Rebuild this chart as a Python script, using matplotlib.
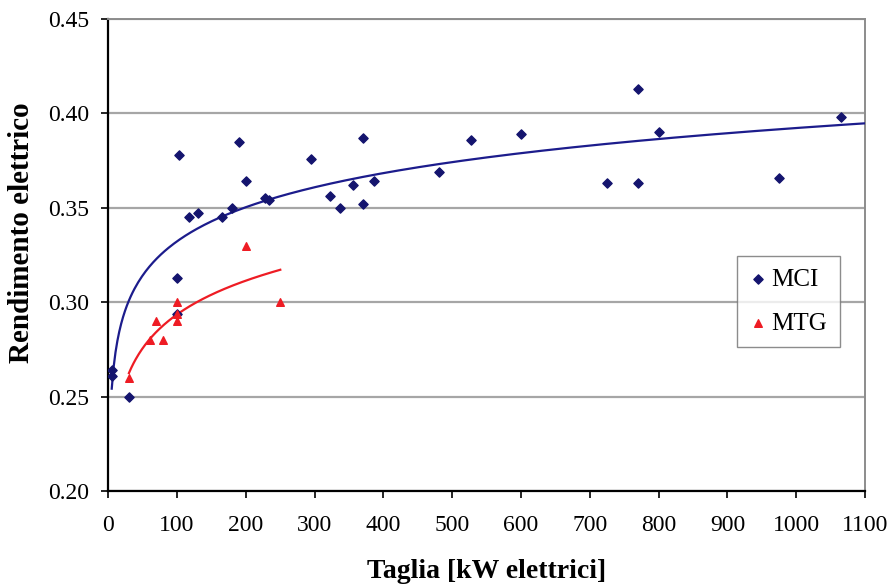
import numpy as np
import matplotlib
matplotlib.use("Agg")
import matplotlib.pyplot as plt

plt.rcParams['font.family'] = ['Liberation Serif', 'DejaVu Serif']

# Data
mci_x = [5, 5, 30, 100, 100, 103, 118, 130, 165, 180, 190, 200, 228, 233,
         295, 323, 337, 356, 370, 370, 386, 480, 527, 600, 725, 770, 770,
         800, 975, 1065]
mci_y = [0.264, 0.261, 0.250, 0.313, 0.294, 0.378, 0.345, 0.347, 0.345,
         0.350, 0.385, 0.364, 0.355, 0.354, 0.376, 0.356, 0.350, 0.362,
         0.387, 0.352, 0.364, 0.369, 0.386, 0.389, 0.363, 0.413, 0.363,
         0.390, 0.366, 0.398]
mtg_x = [30, 60, 70, 80, 100, 100, 100, 200, 250]
mtg_y = [0.260, 0.280, 0.290, 0.280, 0.300, 0.294, 0.290, 0.330, 0.300]

x_ticks = [0, 100, 200, 300, 400, 500, 600, 700, 800, 900, 1000, 1100]
y_ticks = [0.20, 0.25, 0.30, 0.35, 0.40, 0.45]

blue_pt = '#14146e'
blue_ln = '#1c1c8c'
red = '#ee1c24'

fig = plt.figure(figsize=(8.95, 5.87), dpi=100)
ax = fig.add_axes([0.121, 0.1635, 0.8455, 0.8043])

# logarithmic trend lines (fit from data)
bm, am = np.polyfit(np.log(mci_x), mci_y, 1)
xm = np.linspace(min(mci_x), 1100, 400)
ax.plot(xm, am + bm * np.log(xm), color=blue_ln, lw=1.6, zorder=3)
br, ar = np.polyfit(np.log(mtg_x), mtg_y, 1)
xr = np.linspace(min(mtg_x), max(mtg_x), 200)
ax.plot(xr, ar + br * np.log(xr), color=red, lw=1.6, zorder=3)

ax.scatter(mci_x, mci_y, marker='D', s=22, color=blue_pt, zorder=4, label='MCI')
ax.scatter(mtg_x, mtg_y, marker='^', s=30, color=red, zorder=4, label='MTG')

ax.set_xlim(0, 1100)
ax.set_ylim(0.20, 0.45)
ax.set_xticks(x_ticks)
ax.set_yticks(y_ticks)
ax.set_xticklabels([str(t) for t in x_ticks])
ax.set_yticklabels([f"{t:.2f}" for t in y_ticks])
ax.tick_params(axis='both', labelsize=17, direction='out', length=5, width=1.2)
ax.tick_params(axis='x', pad=12)
ax.tick_params(axis='y', pad=8.5)
ax.yaxis.grid(True, color='#a6a6a6', lw=1.6)
ax.set_axisbelow(True)

for s in ['left', 'bottom']:
    ax.spines[s].set_color('black')
    ax.spines[s].set_linewidth(1.6)
for s in ['top', 'right']:
    ax.spines[s].set_color('#8c8c8c')
    ax.spines[s].set_linewidth(1.4)

fig.text(487 / 895, 1 - 572 / 587, 'Taglia [kW elettrici]', fontsize=20,
         fontweight='bold', ha='center', va='center')
fig.text(22 / 895, 1 - 233 / 587, 'Rendimento elettrico', fontsize=21,
         fontweight='bold', ha='center', va='center', rotation=90)

leg = ax.legend(loc='upper left', bbox_to_anchor=(0.8304, 0.4978), fontsize=18,
                frameon=True, fancybox=False, edgecolor='#707070',
                handletextpad=0.2, handlelength=0.7, borderpad=0.5,
                labelspacing=0.85, borderaxespad=0)
leg.get_frame().set_linewidth(1.0)

fig.savefig('out.png', dpi=100)
